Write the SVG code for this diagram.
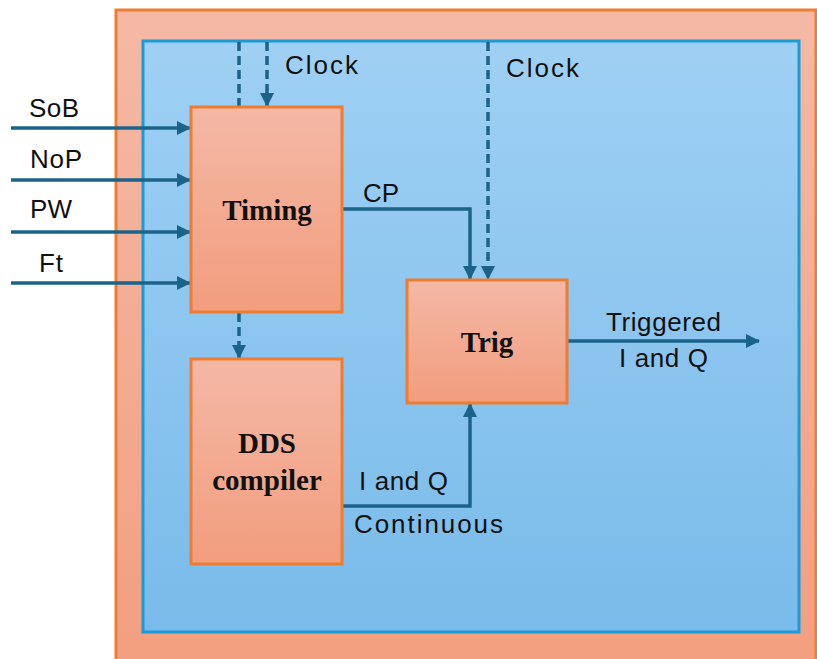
<svg xmlns="http://www.w3.org/2000/svg" width="817" height="659" viewBox="0 0 817 659">
  <defs>
    <linearGradient id="gOuter" x1="0" y1="0" x2="0" y2="1">
      <stop offset="0" stop-color="#f4b9a6"/>
      <stop offset="1" stop-color="#f29f7f"/>
    </linearGradient>
    <linearGradient id="gInner" x1="0" y1="0" x2="0" y2="1">
      <stop offset="0" stop-color="#9fd0f4"/>
      <stop offset="1" stop-color="#79bbea"/>
    </linearGradient>
    <linearGradient id="gBox" x1="0" y1="0" x2="0" y2="1">
      <stop offset="0" stop-color="#f4b8a5"/>
      <stop offset="1" stop-color="#f29d7e"/>
    </linearGradient>
    <marker id="arrow" markerUnits="userSpaceOnUse" markerWidth="14" markerHeight="14" refX="13" refY="7" orient="auto">
      <path d="M0,0 L14,7 L0,14 z" fill="#1b6388"/>
    </marker>
  </defs>
  <style>
    .block { fill: url(#gBox); stroke: #ed7d31; stroke-width: 3; }
    .wire { fill: none; stroke: #1b6388; stroke-width: 3.5; }
    .dash { stroke-dasharray: 9 5; }
    .lbl { font-family: "Liberation Sans", Arial, sans-serif; font-size: 26px; fill: #111; }
    .title { font-family: "Liberation Serif", "Times New Roman", serif; font-size: 29px; font-weight: bold; fill: #111; text-anchor: middle; }
  </style>

  <rect width="817" height="659" fill="#ffffff"/>

  <!-- enclosing FPGA region -->
  <rect id="outer" x="116" y="10" width="700" height="660" fill="url(#gOuter)" stroke="#ed7d31" stroke-width="3"/>
  <rect id="inner" x="143" y="41" width="656" height="591" fill="url(#gInner)" stroke="#1a9ad6" stroke-width="3"/>

  <!-- connectors -->
  <g id="connectors">
    <line class="wire" x1="11" y1="128" x2="190" y2="128" marker-end="url(#arrow)"/>
    <line class="wire" x1="11" y1="180" x2="190" y2="180" marker-end="url(#arrow)"/>
    <line class="wire" x1="11" y1="232" x2="190" y2="232" marker-end="url(#arrow)"/>
    <line class="wire" x1="11" y1="283" x2="190" y2="283" marker-end="url(#arrow)"/>

    <line class="wire dash" x1="239" y1="42" x2="239" y2="106"/>
    <line class="wire dash" x1="267" y1="42" x2="267" y2="106" marker-end="url(#arrow)"/>

    <line class="wire dash" x1="239" y1="313" x2="239" y2="358" marker-end="url(#arrow)"/>

    <polyline class="wire" points="342,209 470,209 470,279" marker-end="url(#arrow)"/>
    <line class="wire dash" x1="488" y1="42" x2="488" y2="279" marker-end="url(#arrow)"/>

    <polyline class="wire" points="342,506 470,506 470,404" marker-end="url(#arrow)"/>

    <line class="wire" x1="567" y1="341" x2="759" y2="341" marker-end="url(#arrow)"/>
  </g>

  <!-- blocks -->
  <g id="timing">
    <rect class="block" x="191" y="107" width="151" height="205"/>
    <text class="title" x="267" y="220">Timing</text>
  </g>
  <g id="dds">
    <rect class="block" x="191" y="359" width="151" height="205"/>
    <text class="title" x="267" y="453">DDS</text>
    <text class="title" x="267" y="490">compiler</text>
  </g>
  <g id="trig">
    <rect class="block" x="407" y="280" width="160" height="123"/>
    <text class="title" x="487" y="352">Trig</text>
  </g>

  <!-- signal labels -->
  <g id="labels">
    <text class="lbl" x="29" y="117" textLength="50">SoB</text>
    <text class="lbl" x="30" y="168" textLength="52">NoP</text>
    <text class="lbl" x="30" y="218" textLength="42">PW</text>
    <text class="lbl" x="39" y="272" textLength="24">Ft</text>
    <text class="lbl" x="285" y="74" textLength="73">Clock</text>
    <text class="lbl" x="506" y="77" textLength="73">Clock</text>
    <text class="lbl" x="363" y="202" textLength="36">CP</text>
    <text class="lbl" x="606" y="331" textLength="115">Triggered</text>
    <text class="lbl" x="619" y="367" textLength="89">I and Q</text>
    <text class="lbl" x="359" y="490" textLength="89">I and Q</text>
    <text class="lbl" x="354" y="533" textLength="149">Continuous</text>
  </g>
</svg>
